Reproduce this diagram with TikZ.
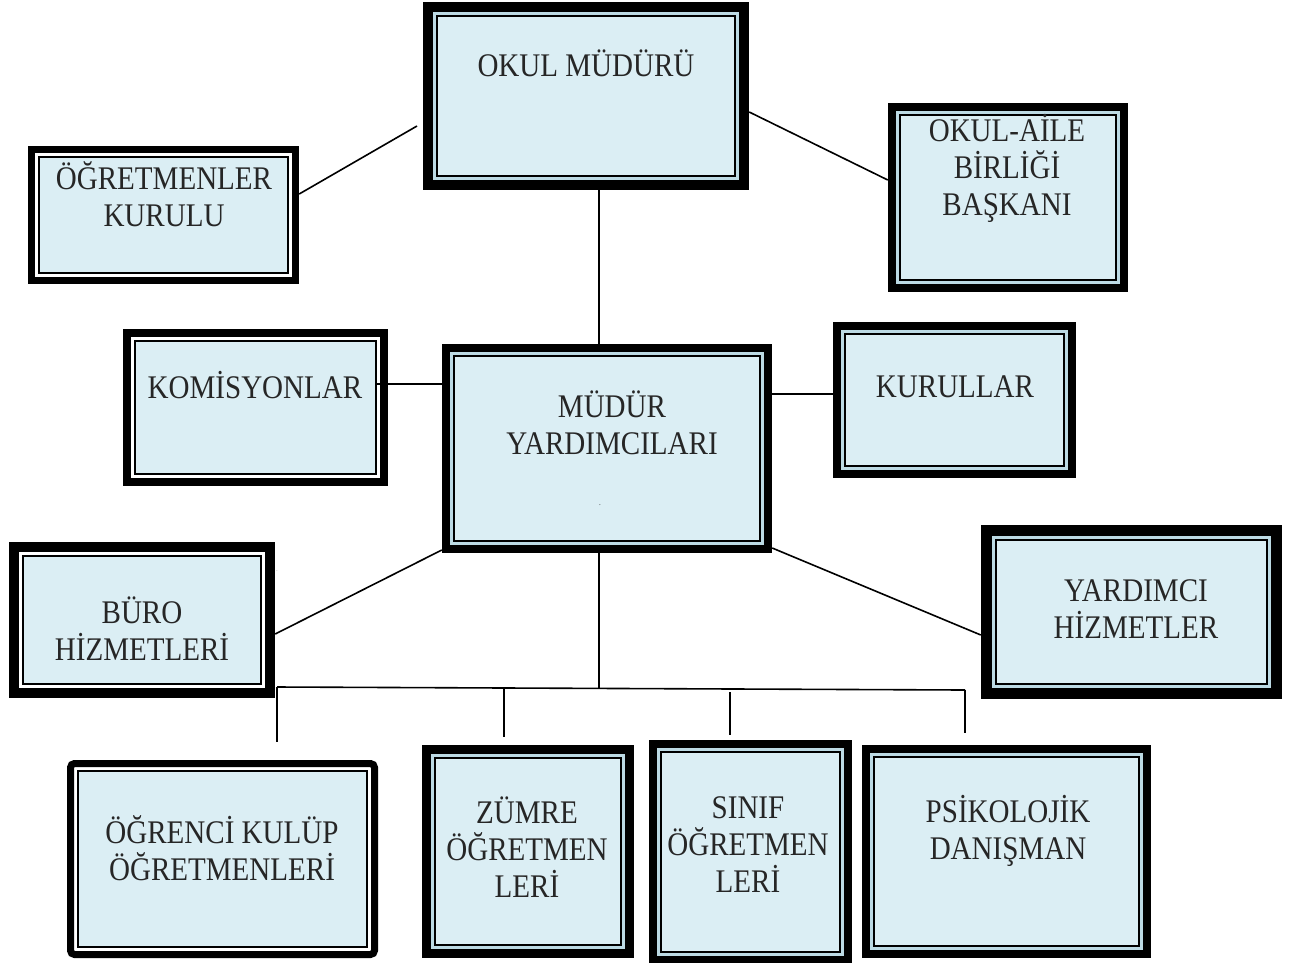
\documentclass[tikz,border=0pt]{standalone}
\usepackage{fontspec}
\setmainfont[FakeStretch=0.88]{Liberation Serif}
\usetikzlibrary{calc}
\definecolor{boxfill}{RGB}{219,238,244}
\definecolor{gapb}{RGB}{188,218,228}
\definecolor{txt}{RGB}{38,38,38}

% #1 name, #2 x1, #3 y1, #4 x2, #5 y2, #6 outer line width, #7 gap colour, #8 corner radius
\newcommand\obox[8]{%
 \fill[#7, rounded corners=#8pt] (#2,#3) rectangle (#4,#5);
 \draw[line width=#6pt, rounded corners=#8pt] ({#2+#6/2},{#3+#6/2}) rectangle ({#4-#6/2},{#5-#6/2});
 \draw[line width=2pt, fill=boxfill] ({#2+#6+4},{#3+#6+4}) rectangle ({#4-#6-4},{#5-#6-4});
 \node[inner sep=0pt, minimum width={(#4-#2)*1pt}, minimum height={(#5-#3)*1pt}] (#1) at ({(#2+#4)/2},{(#3+#5)/2}) {};
}
% #1 name, #2 x, #3 cap centre of first line, #4 text
\newcommand\btext[4]{%
 \node[btxt] (#1) at (#2,{#3-19.1}) {\rule{0pt}{30pt}#4};
}

\begin{document}
\begin{tikzpicture}[x=1pt, y=-1pt,
  btxt/.style={text=txt, anchor=north, align=center, inner sep=0pt, font=\fontsize{33}{37}\selectfont},
  conn/.style={line width=1.6pt, black}]
\useasboundingbox (0,0) rectangle (1296,962);
\fill[white] (0,0) rectangle (1296,962);

% boxes
\obox{om}{423}{2}{749}{190}{10}{gapb}{0}
\obox{og}{28}{146}{299}{284}{7}{white}{0}
\obox{km}{123}{329}{388}{486}{8}{white}{0}
\obox{oa}{888}{103}{1128}{292}{8}{gapb}{0}
\obox{ku}{833}{322}{1076}{478}{8}{gapb}{0}
\obox{my}{442}{344}{772}{553}{8}{gapb}{0}
\obox{bu}{9}{542}{275}{698}{10}{white}{0}
\obox{yh}{981}{525}{1282}{699}{11}{gapb}{0}
\obox{ok}{67}{760}{378}{958}{7}{white}{4}
\obox{zu}{422}{745}{634}{958}{9}{gapb}{0}
\obox{si}{649}{740}{852}{964}{8}{gapb}{0}
\obox{ps}{862}{745}{1151}{958}{8}{gapb}{0}

% texts
\btext{om-t}{586}{65}{OKUL MÜDÜRÜ}
\btext{og-t}{164}{178}{ÖĞRETMENLER\\KURULU}
\btext{km-t}{255}{387}{KOMİSYONLAR}
\btext{oa-t}{1007}{130}{OKUL-AİLE\\BİRLİĞİ\\BAŞKANI}
\btext{ku-t}{955}{386}{KURULLAR}
\btext{my-t}{612}{406}{MÜDÜR\\YARDIMCILARI}
\btext{bu-t}{142}{612}{BÜRO\\HİZMETLERİ}
\btext{yh-t}{1136}{590}{YARDIMCI\\HİZMETLER}
\btext{ok-t}{222}{832}{ÖĞRENCİ KULÜP\\ÖĞRETMENLERİ}
\btext{zu-t}{527}{812}{ZÜMRE\\ÖĞRETMEN\\LERİ}
\btext{si-t}{748}{807}{SINIF\\ÖĞRETMEN\\LERİ}
\btext{ps-t}{1008}{811}{PSİKOLOJİK\\DANIŞMAN}
\node[text=txt, font=\fontsize{8}{9}\selectfont, inner sep=0pt] (dot1) at (600,505) {.};
\node[text=gray, font=\fontsize{6}{7}\selectfont, inner sep=0pt] (dot2) at (277,571) {.};

% connectors
\coordinate (omL) at (417,126);
\draw[conn] (omL) -- (og.east |- 0,194);
\draw[conn] (om.east |- 0,112) -- (oa.west |- 0,180);
\draw[conn] (599,0 |- om.south) -- (599,0 |- my.north);
\draw[conn] ([xshift=-11pt]km.east |- 0,384) -- (my.west |- 0,384);
\draw[conn] (my.east |- 0,394) -- (ku.west |- 0,394);
\draw[conn] (my.west |- 0,550) -- (bu.east |- 0,634);
\draw[conn] (my.east |- 0,548) -- (yh.west |- 0,635);

\coordinate (busL) at (277,687);
\coordinate (busM) at (599,688.4);
\coordinate (busR) at (965,690);
\draw[conn] (599,0 |- my.south) -- (busM);
\draw[conn] (busL) -- (busR);
\coordinate (d1) at (277,742);
\coordinate (d2t) at (504,688); \coordinate (d2) at (504,737);
\coordinate (d3t) at (730,692); \coordinate (d3) at (730,735);
\coordinate (d4) at (965,733);
\draw[conn] (busL) -- (d1);
\draw[conn] (d2t) -- (d2);
\draw[conn] (d3t) -- (d3);
\draw[conn] (busR) -- (d4);
\end{tikzpicture}
\end{document}
